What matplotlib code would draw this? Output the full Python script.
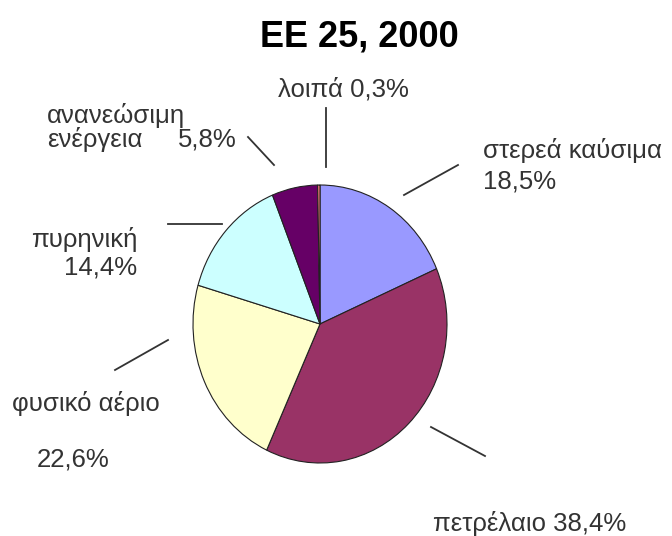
import matplotlib
matplotlib.use("Agg")
import matplotlib.pyplot as plt

# data
labels = ['στερεά καύσιμα', 'πετρέλαιο', 'φυσικό αέριο', 'πυρηνική',
          'ανανεώσιμη ενέργεια', 'λοιπά']
shares = [18.5, 38.4, 22.6, 14.4, 5.8, 0.3]
colors = ['#9999FF', '#993366', '#FFFFCC', '#CCFFFF', '#660066', '#FF8080']
title = 'EE 25, 2000'

W, H = 672, 536
fig = plt.figure(figsize=(W / 100, H / 100), dpi=100)

# pie sits in its own axes, slightly taller than wide like the original
cx, cy, rx, ry = 320, 324, 127, 139
pax = fig.add_axes([(cx - rx) / W, (H - cy - ry) / H, 2 * rx / W, 2 * ry / H])
pax.pie(shares, colors=colors, startangle=90, counterclock=False,
        wedgeprops=dict(edgecolor='#222222', linewidth=0.8))
pax.set_aspect('auto')
pax.set_xlim(-1, 1)
pax.set_ylim(-1, 1)
pax.axis('off')

# overlay in pixel coordinates for labels and leader lines
ax = fig.add_axes([0, 0, 1, 1])
ax.set_xlim(0, W)
ax.set_ylim(H, 0)
ax.axis('off')
ax.patch.set_alpha(0)

fam = ['Liberation Sans', 'DejaVu Sans']
tc = '#333333'
fs = 18.5

ax.text(359, 47, title, ha='center', va='baseline', fontsize=26,
        fontweight='bold', family=fam, color='black')

def label(x, y, s, ha='left'):
    ax.text(x, y, s, ha=ha, va='baseline', fontsize=fs, family=fam, color=tc)

def leader(x0, y0, x1, y1):
    ax.plot([x0, x1], [y0, y1], color='#333333', linewidth=1.3)

# λοιπά
label(278, 97, labels[5] + ' 0,3%')
leader(326, 108, 326, 167)
# ανανεώσιμη ενέργεια
label(47, 123, 'ανανεώσιμη')
label(47, 147, 'ενέργεια')
label(178, 147, '5,8%')
leader(248, 137, 274, 165)
# πυρηνική
label(137, 247, labels[3], ha='right')
label(137, 275, '14,4%', ha='right')
leader(168, 224, 222, 224)
# στερεά καύσιμα
label(483, 158, labels[0])
label(483, 188, '18,5%')
leader(404, 195, 458, 165)
# φυσικό αέριο
label(12, 411, labels[2])
label(37, 467, '22,6%')
leader(115, 370, 168, 340)
# πετρέλαιο
label(433, 531, labels[1] + ' 38,4%')
leader(431, 427, 485, 456)

fig.savefig('out.png', dpi=100, facecolor='white')
